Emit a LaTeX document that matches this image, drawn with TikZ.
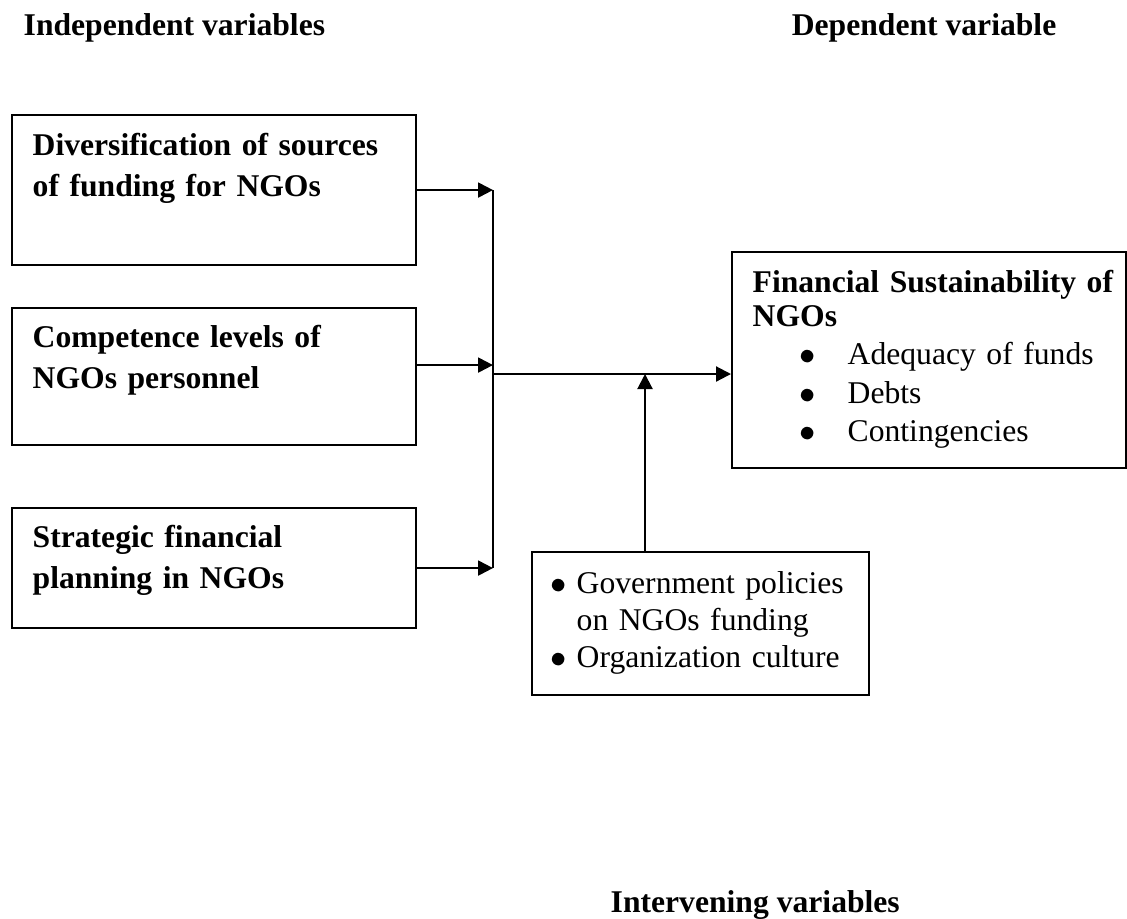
\documentclass[tikz,border=0pt]{standalone}
\usepackage{fontspec}
\setmainfont{Liberation Serif}
\usetikzlibrary{arrows.meta}

\tikzset{
  varbox/.style={draw,line width=0.6pt,inner sep=0pt,anchor=north west},
  boxtext/.style={anchor=base west,inner sep=0pt,text width=#1},
  boxtext/.default=3.8cm,
  heading/.style={inner sep=0pt,font=\bfseries},
  link/.style={line width=0.6pt},
  flow/.style={link,-{Triangle[length=0.15cm,width=0.15cm]}}
}
\newcommand{\bul}{\makebox[0.26cm][l]{$\bullet$}}

\begin{document}
\fontsize{9pt}{11.9pt}\selectfont
\begin{tikzpicture}
\useasboundingbox (0,0) rectangle (11.27,-9.18);

% headings
\node[heading,anchor=base west] (indep) at (0.23,-0.35) {Independent variables};
\node[heading,anchor=base east] (depvar) at (10.57,-0.35) {Dependent variable};
\node[heading,anchor=base west] (interv) at (6.10,-9.12) {Intervening variables};

% independent variables
\node[varbox,minimum width=4.04cm,minimum height=1.50cm] (divers) at (0.11,-1.14) {};
\node[boxtext,font=\bfseries] (diverstext) at (0.32,-1.55)
  {Diversification of sources\\of funding for NGOs};
\node[varbox,minimum width=4.04cm,minimum height=1.37cm] (compet) at (0.11,-3.07) {};
\node[boxtext,font=\bfseries] (compettext) at (0.32,-3.47)
  {Competence levels of\\NGOs personnel};
\node[varbox,minimum width=4.04cm,minimum height=1.20cm] (strat) at (0.11,-5.07) {};
\node[boxtext,font=\bfseries] (strattext) at (0.32,-5.47)
  {Strategic financial\\planning in NGOs};

% dependent variable
\node[varbox,minimum width=3.94cm,minimum height=2.16cm] (finsus) at (7.31,-2.51) {};
\node[boxtext,font=\fontsize{9pt}{10.95pt}\selectfont] (finsustext) at (7.52,-2.92)
  {\textbf{Financial Sustainability of}\\[-0.04cm]
   \textbf{NGOs}\\
   \hspace*{0.47cm}\makebox[0.48cm][l]{$\bullet$}Adequacy of funds\\
   \hspace*{0.47cm}\makebox[0.48cm][l]{$\bullet$}Debts\\
   \hspace*{0.47cm}\makebox[0.48cm][l]{$\bullet$}Contingencies};

% intervening variables
\node[varbox,minimum width=3.37cm,minimum height=1.43cm] (policy) at (5.31,-5.51) {};
\node[boxtext,font=\fontsize{9pt}{10.65pt}\selectfont] (policytext) at (5.50,-5.93)
  {\bul Government policies\\
   \hspace*{0.26cm}on NGOs funding\\
   \bul Organization culture};

% connectors
\coordinate (bus) at (4.93,-3.74);
\coordinate (hub) at (6.45,-3.74);
\draw[flow] (divers.east) -- (divers.east -| bus);
\draw[flow] ([yshift=0.115cm]compet.east) -- ([yshift=0.115cm]compet.east -| bus);
\draw[flow] (strat.east) -- (strat.east -| bus);
\draw[link] (divers.east -| bus) -- (strat.east -| bus);
\draw[flow] (bus) -- (bus -| finsus.west);
\draw[flow] (hub |- policy.north) -- (hub);
\end{tikzpicture}
\end{document}
